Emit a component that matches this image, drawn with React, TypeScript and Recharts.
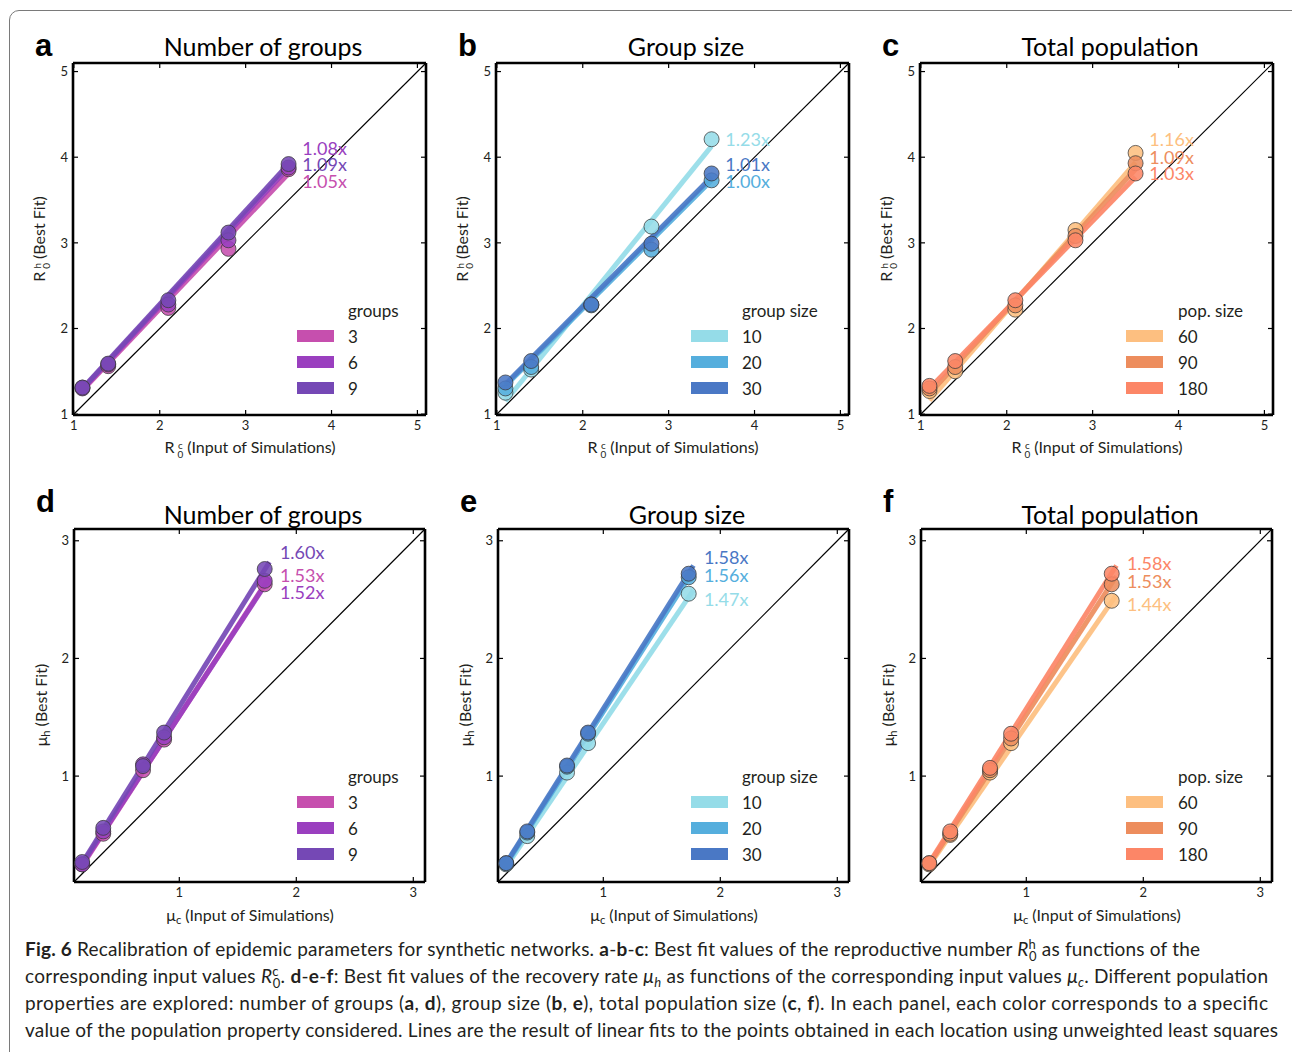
import React from 'react';
import { ComposedChart, XAxis, YAxis, Scatter, Line, ReferenceLine, ReferenceDot } from 'recharts';

const FONT = 'Lato, "DejaVu Sans", sans-serif';
const TXT = '#231f20';

// ---------- shared inputs ----------
const r0Inputs = [1.1, 1.4, 2.1, 2.8, 3.5];
const muInputs = [0.17, 0.35, 0.69, 0.87, 1.73];
const r0Ticks = [1, 2, 3, 4, 5];
const muTicks = [1, 2, 3];
const r0Domain = [0.99, 5.1];
const muDomain = [0.1, 3.1];
const r0FitX = [1.1, 3.5];
const muFitX = [0.17, 1.77];

// ---------- legend names & colours ----------
const groupNames = ['3', '6', '9'];
const sizeNames = ['10', '20', '30'];
const popNames = ['60', '90', '180'];
const groupColors = ['#c64fae', '#9a3fbf', '#7548b5'];
const sizeColors = ['#95dce8', '#55aedd', '#4a78c5'];
const popColors = ['#fdbf80', '#ed8d5d', '#fc8667'];

// ---------- panel a : R0, number of groups ----------
const aG3 = [1.31, 1.56, 2.24, 2.93, 3.86];
const aG6 = [1.3, 1.58, 2.28, 3.03, 3.88];
const aG9 = [1.31, 1.59, 2.33, 3.12, 3.92];
const aFit3 = [1.28, 3.81];
const aFit6 = [1.29, 3.88];
const aFit9 = [1.3, 3.92];
const aRatios = ['1.05x', '1.08x', '1.09x'];
const aRatioY = [3.71, 4.1, 3.91];

// ---------- panel b : R0, group size ----------
const bS10 = [1.25, 1.52, 2.28, 3.19, 4.21];
const bS20 = [1.3, 1.55, 2.27, 2.92, 3.73];
const bS30 = [1.37, 1.62, 2.28, 2.99, 3.81];
const bFit10 = [1.15, 4.13];
const bFit20 = [1.33, 3.73];
const bFit30 = [1.35, 3.77];
const bRatios = ['1.23x', '1.00x', '1.01x'];
const bRatioY = [4.21, 3.71, 3.91];

// ---------- panel c : R0, total population ----------
const cP60 = [1.27, 1.5, 2.22, 3.15, 4.05];
const cP90 = [1.3, 1.55, 2.27, 3.08, 3.93];
const cP180 = [1.33, 1.62, 2.33, 3.03, 3.81];
const cFit60 = [1.16, 3.94];
const cFit90 = [1.24, 3.86];
const cFit180 = [1.3, 3.77];
const cRatios = ['1.16x', '1.09x', '1.03x'];
const cRatioY = [4.2, 4.0, 3.81];

// ---------- panel d : mu, number of groups ----------
const dG3 = [0.25, 0.51, 1.05, 1.31, 2.63];
const dG6 = [0.25, 0.53, 1.1, 1.33, 2.66];
const dG9 = [0.27, 0.56, 1.085, 1.37, 2.76];
const dFit3 = [0.24, 2.69];
const dFit6 = [0.25, 2.68];
const dFit9 = [0.26, 2.82];
const dRatios = ['1.53x', '1.52x', '1.60x'];
const dRatioY = [2.7, 2.56, 2.9];

// ---------- panel e : mu, group size ----------
const eS10 = [0.25, 0.49, 1.03, 1.28, 2.55];
const eS20 = [0.26, 0.52, 1.08, 1.36, 2.69];
const eS30 = [0.26, 0.53, 1.09, 1.37, 2.72];
const eFit10 = [0.23, 2.58];
const eFit20 = [0.25, 2.75];
const eFit30 = [0.26, 2.79];
const eRatios = ['1.47x', '1.56x', '1.58x'];
const eRatioY = [2.5, 2.7, 2.86];

// ---------- panel f : mu, total population ----------
const fP60 = [0.25, 0.5, 1.03, 1.28, 2.49];
const fP90 = [0.26, 0.51, 1.05, 1.32, 2.63];
const fP180 = [0.26, 0.53, 1.07, 1.36, 2.72];
const fFit60 = [0.24, 2.54];
const fFit90 = [0.25, 2.7];
const fFit180 = [0.26, 2.79];
const fRatios = ['1.44x', '1.53x', '1.58x'];
const fRatioY = [2.46, 2.65, 2.81];

type Pt = { x: number; y: number };
type Series = { name: string; color: string; points: Pt[]; fit: Pt[]; ratio: string; ratioY: number };

const zip = (xs: number[], ys: number[]): Pt[] => xs.map((x, i) => ({ x, y: ys[i] }));

function buildSeries(
  names: string[],
  colors: string[],
  xs: number[],
  fitX: number[],
  ys: number[][],
  fits: number[][],
  ratios: string[],
  ratioY: number[]
): Series[] {
  return names.map((name, i) => ({
    name,
    color: colors[i],
    points: zip(xs, ys[i]),
    fit: zip(fitX, fits[i]),
    ratio: ratios[i],
    ratioY: ratioY[i],
  }));
}

type PanelCfg = {
  letter: string;
  title: string;
  kind: 'r0' | 'mu';
  left: number;
  top: number;
  w: number;
  h: number;
  domain: number[];
  ticks: number[];
  ratioX: number;
  series: Series[];
  legendTitle: string;
  swatchX: number;
  labelX: number;
};

const TOP_Y = 62;
const BOT_Y = 528;

const panels: PanelCfg[] = [
  {
    letter: 'a', title: 'Number of groups', kind: 'r0', left: 73, top: TOP_Y, w: 354, h: 353,
    domain: r0Domain, ticks: r0Ticks, ratioX: 3.66, legendTitle: 'groups', swatchX: 224, labelX: 275,
    series: buildSeries(groupNames, groupColors, r0Inputs, r0FitX, [aG3, aG6, aG9], [aFit3, aFit6, aFit9], aRatios, aRatioY),
  },
  {
    letter: 'b', title: 'Group size', kind: 'r0', left: 496, top: TOP_Y, w: 354, h: 353,
    domain: r0Domain, ticks: r0Ticks, ratioX: 3.66, legendTitle: 'group size', swatchX: 195, labelX: 246,
    series: buildSeries(sizeNames, sizeColors, r0Inputs, r0FitX, [bS10, bS20, bS30], [bFit10, bFit20, bFit30], bRatios, bRatioY),
  },
  {
    letter: 'c', title: 'Total population', kind: 'r0', left: 920, top: TOP_Y, w: 354, h: 353,
    domain: r0Domain, ticks: r0Ticks, ratioX: 3.66, legendTitle: 'pop. size', swatchX: 206, labelX: 258,
    series: buildSeries(popNames, popColors, r0Inputs, r0FitX, [cP60, cP90, cP180], [cFit60, cFit90, cFit180], cRatios, cRatioY),
  },
  {
    letter: 'd', title: 'Number of groups', kind: 'mu', left: 74, top: BOT_Y, w: 352, h: 354,
    domain: muDomain, ticks: muTicks, ratioX: 1.86, legendTitle: 'groups', swatchX: 223, labelX: 274,
    series: buildSeries(groupNames, groupColors, muInputs, muFitX, [dG3, dG6, dG9], [dFit3, dFit6, dFit9], dRatios, dRatioY),
  },
  {
    letter: 'e', title: 'Group size', kind: 'mu', left: 498, top: BOT_Y, w: 352, h: 354,
    domain: muDomain, ticks: muTicks, ratioX: 1.86, legendTitle: 'group size', swatchX: 193, labelX: 244,
    series: buildSeries(sizeNames, sizeColors, muInputs, muFitX, [eS10, eS20, eS30], [eFit10, eFit20, eFit30], eRatios, eRatioY),
  },
  {
    letter: 'f', title: 'Total population', kind: 'mu', left: 921, top: BOT_Y, w: 352, h: 354,
    domain: muDomain, ticks: muTicks, ratioX: 1.86, legendTitle: 'pop. size', swatchX: 205, labelX: 257,
    series: buildSeries(popNames, popColors, muInputs, muFitX, [fP60, fP90, fP180], [fFit60, fFit90, fFit180], fRatios, fRatioY),
  },
];

function Stack({ sup, sub }: { sup: string; sub: string }) {
  return (
    <span
      style={{
        display: 'inline-flex',
        flexDirection: 'column',
        alignItems: 'center',
        fontSize: '0.62em',
        lineHeight: 0.95,
        verticalAlign: '0.45em',
        margin: '0 4px 0 3px',
      }}
    >
      <span>{sup}</span>
      <span>{sub}</span>
    </span>
  );
}

function Sub({ t }: { t: string }) {
  return <span style={{ fontSize: '0.7em', verticalAlign: '-0.25em', marginRight: 4 }}>{t}</span>;
}

const dotShape = (color: string) => (props: any) => (
  <circle
    cx={props.cx}
    cy={props.cy}
    r={7.5}
    fill={color}
    fillOpacity={0.88}
    stroke="#3a3a3a"
    strokeOpacity={0.75}
    strokeWidth={1}
  />
);

const noShape = () => <g />;

const bottomTick = (props: any) => (
  <text x={props.x} y={props.y} dy="0.72em" textAnchor="middle" fontSize={13} fontFamily={FONT} fill={TXT}>
    {props.payload.value}
  </text>
);

const leftTick = (props: any) => (
  <text x={props.x} y={props.y} dy="0.36em" textAnchor="end" fontSize={13} fontFamily={FONT} fill={TXT}>
    {props.payload.value}
  </text>
);

function Panel({ p }: { p: PanelCfg }) {
  const ML = 44;
  const MT = 10;
  const MR = 10;
  const MB = 40;
  const axisLine = { stroke: '#000', strokeWidth: 2.6 };
  const tickLine = { stroke: '#000', strokeWidth: 1.2 };
  const seg = [
    { x: p.domain[0], y: p.domain[0] },
    { x: p.domain[1], y: p.domain[1] },
  ];
  const cx = p.left + p.w / 2;
  const titleTop = p.kind === 'r0' ? 46 : 514;
  const letterTop = p.kind === 'r0' ? 30 : 486;
  const xLabelY = p.top + p.h + 33;
  return (
    <>
      <div style={{ position: 'absolute', left: p.left - ML, top: p.top - MT }}>
        <ComposedChart
          width={p.w + ML + MR}
          height={p.h + MT + MB}
          margin={{ top: MT, right: MR, bottom: 0, left: 0 }}
        >
          <XAxis
            type="number"
            dataKey="x"
            domain={p.domain}
            ticks={p.ticks}
            allowDataOverflow
            interval={0}
            height={MB}
            axisLine={axisLine}
            tickLine={tickLine}
            tickSize={-5}
            tickMargin={11}
            tick={bottomTick}
          />
          <XAxis
            xAxisId="top"
            orientation="top"
            type="number"
            dataKey="x"
            domain={p.domain}
            ticks={p.ticks}
            allowDataOverflow
            interval={0}
            height={1}
            axisLine={axisLine}
            tickLine={tickLine}
            tickSize={-5}
            tickFormatter={() => ''}
          />
          <YAxis
            type="number"
            dataKey="y"
            domain={p.domain}
            ticks={p.ticks}
            allowDataOverflow
            interval={0}
            width={ML}
            axisLine={axisLine}
            tickLine={tickLine}
            tickSize={-5}
            tickMargin={10}
            tick={leftTick}
          />
          <YAxis
            yAxisId="right"
            orientation="right"
            type="number"
            dataKey="y"
            domain={p.domain}
            ticks={p.ticks}
            allowDataOverflow
            interval={0}
            width={1}
            axisLine={axisLine}
            tickLine={tickLine}
            tickSize={-5}
            tickFormatter={() => ''}
          />
          <ReferenceLine segment={seg} stroke="#000" strokeWidth={1.2} ifOverflow="visible" />
          {p.series.map((s) => (
            <Line
              key={'l' + s.name}
              data={s.fit}
              dataKey="y"
              type="linear"
              stroke={s.color}
              strokeWidth={5}
              strokeOpacity={0.92}
              dot={false}
              activeDot={false}
              isAnimationActive={false}
            />
          ))}
          {p.series.map((s) => (
            <Scatter
              key={'s' + s.name}
              data={s.points}
              dataKey="y"
              fill={s.color}
              shape={dotShape(s.color)}
              isAnimationActive={false}
            />
          ))}
          {/* invisible series binding the frame axes (top / right) */}
          <Scatter
            xAxisId="top"
            yAxisId="right"
            data={p.series[0].points}
            dataKey="y"
            shape={noShape}
            isAnimationActive={false}
          />
          {p.series.map((s) => (
            <ReferenceDot
              key={'r' + s.name}
              x={p.ratioX}
              y={s.ratioY}
              r={0}
              ifOverflow="visible"
              label={{ value: s.ratio, position: 'right', offset: 0, fill: s.color, fontSize: 18, fontFamily: FONT }}
            />
          ))}
        </ComposedChart>
      </div>

      {/* panel letter */}
      <div
        style={{
          position: 'absolute',
          left: p.left - 38,
          top: letterTop,
          fontFamily: '"Liberation Sans", Arial, sans-serif',
          fontWeight: 'bold',
          fontSize: 31,
          lineHeight: '31px',
          color: '#000',
        }}
      >
        {p.letter}
      </div>

      {/* title */}
      <div
        style={{
          position: 'absolute',
          left: cx + 13,
          top: titleTop,
          transform: 'translate(-50%, -50%)',
          fontFamily: FONT,
          fontSize: 25,
          whiteSpace: 'nowrap',
          color: '#000',
        }}
      >
        {p.title}
      </div>

      {/* x label */}
      <div
        style={{
          position: 'absolute',
          left: cx,
          top: xLabelY,
          transform: 'translate(-50%, -50%)',
          fontFamily: FONT,
          fontSize: 16,
          whiteSpace: 'nowrap',
          color: TXT,
        }}
      >
        {p.kind === 'r0' ? (
          <>
            R<Stack sup="c" sub="0" />(Input of Simulations)
          </>
        ) : (
          <>
            μ<Sub t="c" />(Input of Simulations)
          </>
        )}
      </div>

      {/* y label */}
      <div
        style={{
          position: 'absolute',
          left: p.left - 33,
          top: p.top + p.h / 2,
          transform: 'translate(-50%, -50%) rotate(-90deg)',
          fontFamily: FONT,
          fontSize: 16,
          whiteSpace: 'nowrap',
          color: TXT,
        }}
      >
        {p.kind === 'r0' ? (
          <>
            R<Stack sup="h" sub="0" />(Best Fit)
          </>
        ) : (
          <>
            μ<Sub t="h" />(Best Fit)
          </>
        )}
      </div>

      {/* legend */}
      <div
        style={{
          position: 'absolute',
          left: p.left + p.labelX,
          top: p.top + 248,
          transform: 'translateY(-50%)',
          fontFamily: FONT,
          fontSize: 17,
          whiteSpace: 'nowrap',
          color: TXT,
        }}
      >
        {p.legendTitle}
      </div>
      {p.series.map((s, i) => (
        <React.Fragment key={'lg' + s.name}>
          <div
            style={{
              position: 'absolute',
              left: p.left + p.swatchX,
              top: p.top + 274 + i * 26 - 6,
              width: 37,
              height: 12,
              background: s.color,
            }}
          />
          <div
            style={{
              position: 'absolute',
              left: p.left + p.labelX,
              top: p.top + 274 + i * 26,
              transform: 'translateY(-50%)',
              fontFamily: FONT,
              fontSize: 17,
              whiteSpace: 'nowrap',
              color: TXT,
            }}
          >
            {s.name}
          </div>
        </React.Fragment>
      ))}
    </>
  );
}

function Caption() {
  const fs = 19;
  const small = 13;
  const b = { fontWeight: 'bold' as const };
  const it = { fontStyle: 'italic' as const };
  return (
    <svg
      width={1292}
      height={120}
      style={{ position: 'absolute', left: 0, top: 932 }}
      fontFamily={FONT}
      fontSize={fs}
      fill={TXT}
    >
      <text x={25} y={24} textLength={1175} lengthAdjust="spacing">
        <tspan {...b}>Fig. 6</tspan>
        <tspan> Recalibration of epidemic parameters for synthetic networks. </tspan>
        <tspan {...b}>a</tspan>-<tspan {...b}>b</tspan>-<tspan {...b}>c</tspan>
        <tspan>: Best fit values of the reproductive number </tspan>
        <tspan {...it}>R</tspan>
        <tspan fontSize={small} dy={-7}>h</tspan>
        <tspan fontSize={small} dx={-7} dy={12}>0</tspan>
        <tspan dy={-5}> as functions of the</tspan>
      </text>
      <text x={25} y={51} textLength={1243} lengthAdjust="spacing">
        <tspan>corresponding input values </tspan>
        <tspan {...it}>R</tspan>
        <tspan fontSize={small} dy={-7}>c</tspan>
        <tspan fontSize={small} dx={-6} dy={12}>0</tspan>
        <tspan dy={-5}>. </tspan>
        <tspan {...b}>d</tspan>-<tspan {...b}>e</tspan>-<tspan {...b}>f</tspan>
        <tspan>: Best fit values of the recovery rate </tspan>
        <tspan {...it}>μ</tspan>
        <tspan {...it} fontSize={small} dy={4}>h</tspan>
        <tspan dy={-4}> as functions of the corresponding input values </tspan>
        <tspan {...it}>μ</tspan>
        <tspan {...it} fontSize={small} dy={4}>c</tspan>
        <tspan dy={-4}>. Different population</tspan>
      </text>
      <text x={25} y={78} textLength={1243} lengthAdjust="spacing">
        <tspan>properties are explored: number of groups (</tspan>
        <tspan {...b}>a</tspan>, <tspan {...b}>d</tspan>
        <tspan>), group size (</tspan>
        <tspan {...b}>b</tspan>, <tspan {...b}>e</tspan>
        <tspan>), total population size (</tspan>
        <tspan {...b}>c</tspan>, <tspan {...b}>f</tspan>
        <tspan>). In each panel, each color corresponds to a specific</tspan>
      </text>
      <text x={25} y={105} textLength={1253} lengthAdjust="spacing">
        value of the population property considered. Lines are the result of linear fits to the points obtained in each location using unweighted least squares
      </text>
    </svg>
  );
}

export default function App() {
  return (
    <div
      style={{
        position: 'absolute',
        left: 0,
        top: 0,
        width: 1292,
        height: 1052,
        overflow: 'hidden',
        background: '#fff',
      }}
    >
      <div
        style={{
          position: 'absolute',
          left: 9,
          top: 10,
          width: 1300,
          height: 1200,
          border: '1px solid #7a7a7a',
          borderTopLeftRadius: 10,
        }}
      />
      {panels.map((p) => (
        <Panel key={p.letter} p={p} />
      ))}
      <Caption />
    </div>
  );
}
